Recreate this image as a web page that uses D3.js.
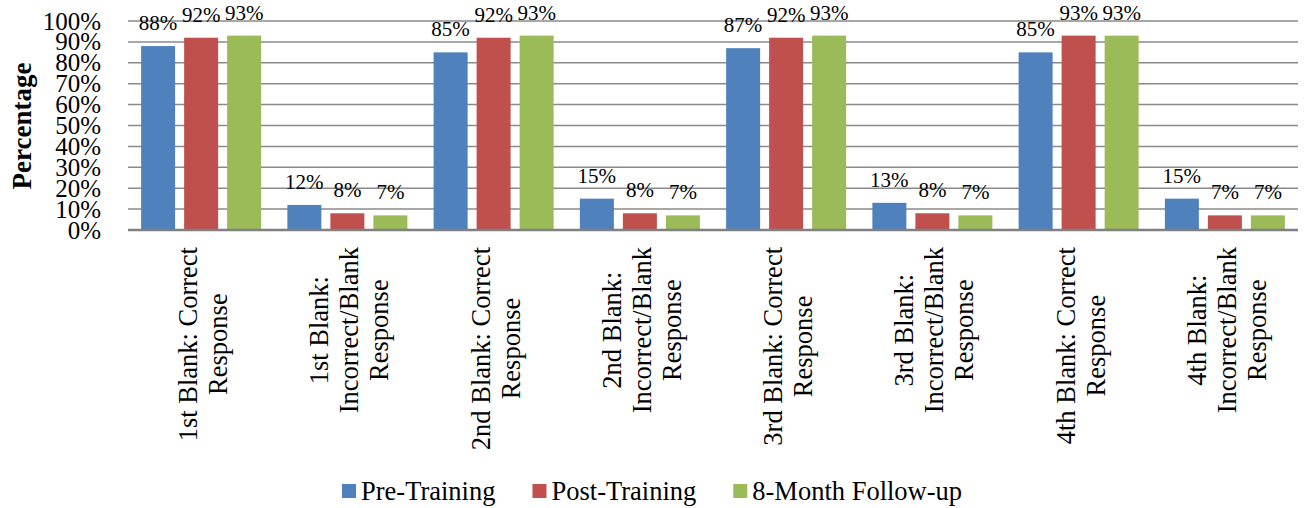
<!DOCTYPE html>
<html>
<head>
<meta charset="utf-8">
<script src="https://cdn.jsdelivr.net/npm/d3@7/dist/d3.min.js"></script>
<style>
  html, body { margin: 0; padding: 0; background: #fff; }
  svg { display: block; font-family: "Liberation Serif", "Times New Roman", serif; }
</style>
</head>
<body>
<svg id="chart" width="1308" height="508"></svg>
<script>
// Category labels, one entry per group, split into display lines
const categories = [
  ["1st Blank: Correct", "Response"],
  ["1st Blank:", "Incorrect/Blank", "Response"],
  ["2nd Blank: Correct", "Response"],
  ["2nd Blank:", "Incorrect/Blank", "Response"],
  ["3rd Blank: Correct", "Response"],
  ["3rd Blank:", "Incorrect/Blank", "Response"],
  ["4th Blank: Correct", "Response"],
  ["4th Blank:", "Incorrect/Blank", "Response"]
];
const seriesNames = ["Pre-Training", "Post-Training", "8-Month Follow-up"];
const seriesColors = ["#4F81BD", "#C0504D", "#9BBB59"];

// Percentages per series
const preTraining  = [88, 12, 85, 15, 87, 13, 85, 15];
const postTraining = [92, 8, 92, 8, 92, 8, 93, 7];
const followUp     = [93, 7, 93, 7, 93, 7, 93, 7];

const yTicks = [0, 10, 20, 30, 40, 50, 60, 70, 80, 90, 100];

const seriesValues = [preTraining, postTraining, followUp];

const svg = d3.select("#chart");
const plot = { left: 128, right: 1298, top: 21, bottom: 230 };

const x0 = d3.scaleBand()
  .domain(d3.range(categories.length))
  .range([plot.left, plot.right])
  .padding(0);

const x1 = d3.scaleBand()
  .domain(d3.range(seriesNames.length))
  .range([0, x0.bandwidth()])
  .paddingInner(0.2093)
  .paddingOuter(0.305);

const y = d3.scaleLinear().domain([0, 100]).range([plot.bottom, plot.top]);

// Horizontal gridlines
svg.append("g")
  .selectAll("line")
  .data(yTicks.filter(t => t > 0))
  .join("line")
  .attr("x1", plot.left).attr("x2", plot.right)
  .attr("y1", d => y(d)).attr("y2", d => y(d))
  .attr("stroke", "#8a8a8a")
  .attr("stroke-width", 1.5);

// Y tick labels
svg.append("g")
  .selectAll("text")
  .data(yTicks)
  .join("text")
  .attr("x", 101)
  .attr("y", d => y(d))
  .attr("dy", "0.34em")
  .attr("text-anchor", "end")
  .attr("font-size", 25)
  .attr("fill", "#000")
  .text(d => d + "%");

// Y axis title
svg.append("text")
  .attr("transform", "translate(31,126) rotate(-90)")
  .attr("text-anchor", "middle")
  .attr("font-size", 27)
  .attr("font-weight", "bold")
  .text("Percentage");

// Bars
const groups = svg.append("g")
  .selectAll("g")
  .data(categories.map((c, i) => i))
  .join("g")
  .attr("transform", i => `translate(${x0(i)},0)`);

groups.selectAll("rect")
  .data(i => seriesValues.map((vals, s) => ({ s, v: vals[i] })))
  .join("rect")
  .attr("x", d => x1(d.s))
  .attr("width", x1.bandwidth())
  .attr("y", d => y(d.v))
  .attr("height", d => y(0) - y(d.v))
  .attr("fill", d => seriesColors[d.s]);

// Value labels above bars
groups.selectAll("text")
  .data(i => seriesValues.map((vals, s) => ({ s, v: vals[i] })))
  .join("text")
  .attr("x", d => x1(d.s) + x1.bandwidth() / 2)
  .attr("y", d => y(d.v) - 16)
  .attr("text-anchor", "middle")
  .attr("font-size", 21)
  .text(d => d.v + "%");

// Category axis line
svg.append("line")
  .attr("x1", plot.left).attr("x2", plot.right)
  .attr("y1", y(0)).attr("y2", y(0))
  .attr("stroke", "#808080")
  .attr("stroke-width", 2.5);

// Rotated category labels, lines centred on each other, block hanging below the axis
const labelTop = 247;
const lineGap = 30;
categories.forEach((lines, i) => {
  const cx = x0(i) + x0.bandwidth() / 2;
  const g = svg.append("g");
  const texts = lines.map((line, k) => g.append("text")
    .attr("text-anchor", "middle")
    .attr("font-size", 26.5)
    .text(line));
  const maxLen = d3.max(texts, t => t.node().getComputedTextLength());
  const n = lines.length;
  texts.forEach((t, k) => {
    const bx = cx + 11 + (k - (n - 1) / 2) * lineGap;
    t.attr("transform", `translate(${bx},${labelTop + maxLen / 2}) rotate(-90)`);
  });
});

// Legend
const legend = svg.append("g");
let lx = 342;
seriesNames.forEach((name, s) => {
  legend.append("rect")
    .attr("x", lx).attr("y", 484)
    .attr("width", 14).attr("height", 14)
    .attr("fill", seriesColors[s]);
  const t = legend.append("text")
    .attr("x", lx + 19).attr("y", 500)
    .attr("font-size", 26.5)
    .text(name);
  lx += 19 + t.node().getComputedTextLength() + 37;
});
</script>
</body>
</html>
